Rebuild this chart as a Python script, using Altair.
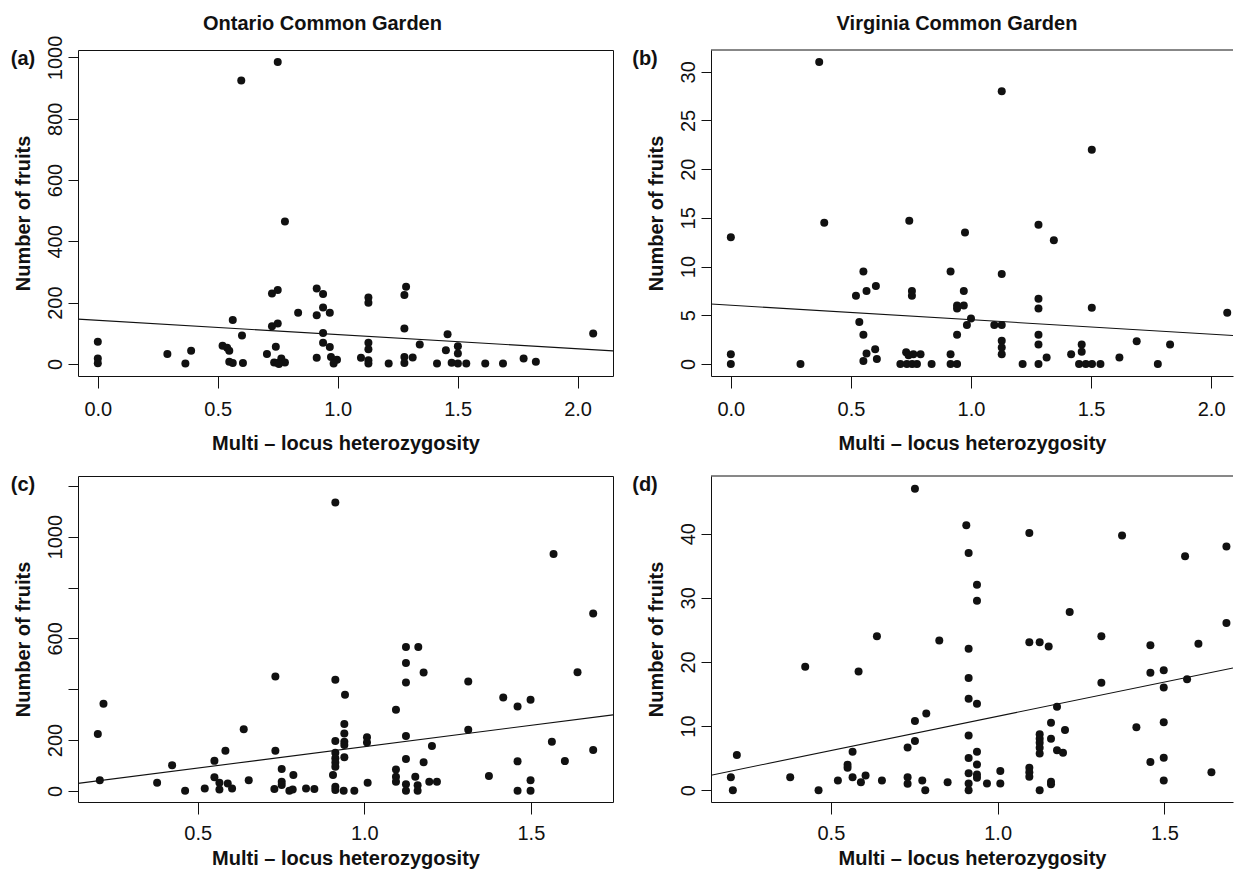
import altair as alt
import pandas as pd

FONT = "Liberation Sans"

# ---------------- data ----------------
a_x = [0.0, 0.0, 0.0, 0.29, 0.365, 0.389, 0.52, 0.539, 0.548, 0.548, 0.5625, 0.5625, 0.601, 0.605, 0.598,
       0.705, 0.742, 0.735, 0.75, 0.765, 0.78, 0.755, 0.726, 0.75, 0.726, 0.75, 0.75, 0.78, 0.835,
       0.9125, 0.939, 0.9125, 0.939, 0.967, 0.939, 0.939, 0.967, 0.9125, 0.972, 0.997, 0.983,
       1.097, 1.128, 1.128, 1.128, 1.128, 1.128, 1.128, 1.2125, 1.285, 1.278, 1.278, 1.278, 1.278,
       1.3125, 1.342, 1.414, 1.458, 1.451, 1.475, 1.501, 1.501, 1.501, 1.536, 1.615, 1.689, 1.775, 1.826, 2.065]
a_y = [72, 18, 2, 32, 1, 43, 59, 53, 43, 7, 3, 143, 93, 3, 925,
       32, 56, 5, 3, 18, 5, 0, 230, 241, 123, 132, 985, 465, 167,
       246, 228, 159, 184, 167, 101, 69, 55, 20, 23, 14, 1,
       20, 217, 200, 69, 48, 12, 1, 1, 252, 225, 116, 23, 3,
       21, 63, 1, 97, 45, 4, 58, 34, 1, 1, 1, 1, 18, 7, 99]

b_x = [0.0, 0.0, 0.0, 0.29, 0.368, 0.389, 0.521, 0.552, 0.565, 0.604, 0.535, 0.552, 0.565, 0.552, 0.601, 0.608,
       0.706, 0.733, 0.73, 0.74, 0.76, 0.79, 0.755, 0.775, 0.743, 0.754, 0.754, 0.836,
       0.915, 0.915, 0.915, 0.942, 0.942, 0.942, 0.942, 0.97, 0.97, 0.975, 0.983, 1.0,
       1.128, 1.097, 1.128, 1.128, 1.128, 1.128, 1.128, 1.215,
       1.281, 1.281, 1.281, 1.281, 1.281, 1.281, 1.315, 1.345,
       1.417, 1.461, 1.461, 1.45, 1.478, 1.504, 1.539, 1.503, 1.503,
       1.618, 1.69, 1.778, 1.829, 2.067]
b_y = [13.0, 1.0, 0.0, 0.0, 31.0, 14.5, 7.0, 9.5, 7.5, 8.0, 4.3, 3.0, 1.07, 0.3, 1.5, 0.5,
       0.0, 0.0, 1.2, 0.9, 1.0, 1.0, 0.0, 0.0, 14.7, 7.5, 7.0, 0.0,
       9.5, 1.0, 0.0, 0.0, 3.0, 6.0, 5.7, 6.0, 7.5, 13.5, 4.0, 4.67,
       28.0, 4.0, 4.0, 9.23, 2.37, 1.69, 1.0, 0.0,
       14.3, 6.7, 5.7, 3.0, 2.0, 0.0, 0.66, 12.7,
       1.0, 2.0, 1.24, 0.0, 0.0, 0.0, 0.0, 22.0, 5.77,
       0.66, 2.34, 0.0, 2.0, 5.25]

c_x = [0.2, 0.217, 0.206, 0.378, 0.423, 0.462, 0.521, 0.55, 0.55, 0.565, 0.565, 0.583, 0.59, 0.603, 0.638, 0.653,
       0.733, 0.733, 0.73, 0.752, 0.752, 0.752, 0.775, 0.785, 0.787, 0.825, 0.85,
       0.913, 0.913, 0.942, 0.913, 0.913, 0.913, 0.913, 0.913, 0.906, 0.913, 0.913, 0.938,
       0.94, 0.94, 0.94, 0.94, 0.94, 0.97, 1.008, 1.008, 1.01,
       1.095, 1.095, 1.095, 1.095, 1.125, 1.162, 1.125, 1.125, 1.178, 1.125, 1.125, 1.178, 1.125, 1.125,
       1.153, 1.16, 1.16, 1.195, 1.218, 1.203,
       1.312, 1.312, 1.374, 1.417, 1.46, 1.46, 1.46, 1.499, 1.499, 1.499,
       1.568, 1.563, 1.602, 1.64, 1.687, 1.687]
c_y = [224, 343, 42, 32, 101, 0, 9, 118, 53, 32, 5, 158, 29, 9, 242, 42,
       450, 158, 7, 86, 36, 23, 0, 5, 62, 9, 7,
       1135, 437, 378, 196, 150, 128, 111, 95, 62, 16, 3, 0,
       263, 226, 193, 180, 132, 0, 211, 190, 32,
       319, 84, 55, 36, 566, 566, 503, 426, 466, 216, 125, 112, 26, 0,
       55, 22, 0, 36, 36, 176,
       430, 240, 58, 367, 332, 116, 0, 358, 42, 0,
       932, 193, 117, 467, 698, 161]

d_x = [0.2, 0.206, 0.218, 0.378, 0.423, 0.463, 0.521, 0.55, 0.55, 0.565, 0.565, 0.583, 0.59, 0.604, 0.638, 0.653,
       0.73, 0.73, 0.73, 0.752, 0.752, 0.752, 0.774, 0.783, 0.786, 0.825, 0.85,
       0.906, 0.913, 0.913, 0.913, 0.913, 0.938, 0.913, 0.913, 0.913, 0.913, 0.913,
       0.938, 0.938, 0.938, 0.938, 0.938, 0.938, 0.968, 1.008, 1.008,
       1.095, 1.095, 1.126, 1.153, 1.095, 1.095, 1.095, 1.126, 1.126, 1.126, 1.126, 1.126, 1.126,
       1.16, 1.16, 1.16, 1.16, 1.178, 1.178, 1.196, 1.202, 1.216,
       1.311, 1.311, 1.373, 1.416, 1.458, 1.458, 1.458, 1.498, 1.498, 1.498, 1.498, 1.498,
       1.568, 1.562, 1.602, 1.641, 1.686, 1.686]
d_y = [2.0, 0.0, 5.5, 2.0, 19.25, 0.0, 1.5, 3.96, 3.5, 6.0, 2.0, 18.5, 1.25, 2.3, 24.0, 1.5,
       6.66, 2.0, 1.0, 47.0, 10.77, 7.65, 1.5, 0.0, 11.97, 23.36, 1.25,
       41.3, 37.0, 22.06, 17.5, 14.26, 13.48, 8.54, 5.0, 2.65, 1.04, 0.0,
       32.05, 29.55, 6.0, 4.0, 2.45, 1.93, 1.04, 2.97, 1.04,
       40.1, 23.05, 23.05, 22.4, 3.5, 2.8, 2.08, 8.7, 8.0, 7.4, 6.6, 5.7, 0.0,
       10.5, 8.0, 1.3, 0.9, 13.0, 6.24, 5.83, 9.37, 27.8,
       24.0, 16.75, 39.7, 9.8, 22.6, 18.3, 4.37, 18.7, 16.0, 10.6, 5.05, 1.5,
       17.3, 36.5, 22.85, 2.8, 38.0, 26.06]

# regression lines (intercept, slope)
a_fit = [142.2, -46.4]
b_fit = [6.03, -1.49]
c_fit = [5.5, 168.1]
d_fit = [0.83, 10.69]

letters = ["(a)", "(b)", "(c)", "(d)"]
garden_titles = ["Ontario Common Garden", "Virginia Common Garden"]
x_title = "Multi \u2013 locus heterozygosity"
y_title = "Number of fruits"

x_ticks_top = [0.0, 0.5, 1.0, 1.5, 2.0]
x_ticks_bottom = [0.5, 1.0, 1.5]
a_yticks = [0, 200, 400, 600, 800, 1000]
b_yticks = [0, 5, 10, 15, 20, 25, 30]
c_yticks = [0, 200, 400, 600, 800, 1000, 1200]
c_ylabels = [0, 200, 600, 1000]
d_yticks = [0, 10, 20, 30, 40]


def panel(xs, ys, fit, xdom, ydom, xticks, yticks, ylabels, width, height,
          letter, title=None, title_dx=0, open_right=False, lab_pad=11, ttl_pad=14,
          letter_x=-55):
    pts = pd.DataFrame({"x": xs, "y": ys})
    line = pd.DataFrame({"x": [xdom[0], xdom[1]],
                         "y": [fit[0] + fit[1] * xdom[0], fit[0] + fit[1] * xdom[1]]})

    if ylabels is None:
        label_expr = "datum.label"
    else:
        cond = " || ".join(f"datum.value == {v}" for v in ylabels)
        label_expr = f"({cond}) ? datum.label : ''"

    xaxis = alt.Axis(values=xticks, format=".1f", title=x_title, grid=False,
                     labelFontSize=20, labelFont=FONT, labelColor="#111",
                     tickSize=12, tickColor="#111", tickWidth=1,
                     domain=open_right, domainColor="#111", domainWidth=1,
                     labelPadding=lab_pad, labelFlush=False, labelOverlap=False,
                     titleFont=FONT, titleFontSize=20, titleFontWeight="bold",
                     titleColor="#111", titlePadding=ttl_pad)
    yaxis = alt.Axis(values=yticks, format="d", title=y_title, grid=False,
                     labelFontSize=20, labelFont=FONT, labelColor="#111",
                     labelAngle=-90, labelAlign="center", labelBaseline="alphabetic",
                     labelExpr=label_expr,
                     tickSize=10, tickColor="#111", tickWidth=1,
                     domain=open_right, domainColor="#111", domainWidth=1,
                     labelPadding=7, labelFlush=False, labelOverlap=False,
                     titleFont=FONT, titleFontSize=20, titleFontWeight="bold",
                     titleColor="#111", titlePadding=12)

    xs_ = alt.Scale(domain=list(xdom), nice=False, zero=False)
    ys_ = alt.Scale(domain=list(ydom), nice=False, zero=False)

    p = alt.Chart(pts).mark_circle(size=64, color="#111", opacity=1).encode(
        x=alt.X("x:Q", scale=xs_, axis=xaxis),
        y=alt.Y("y:Q", scale=ys_, axis=yaxis),
    )
    l = alt.Chart(line).mark_line(color="#111", strokeWidth=1.1, clip=True).encode(
        x=alt.X("x:Q", scale=xs_), y=alt.Y("y:Q", scale=ys_)
    )
    lab = alt.Chart(pd.DataFrame({"t": [letter]})).mark_text(
        font=FONT, fontSize=20, fontWeight="bold", color="#111",
        align="center", baseline="middle"
    ).encode(text="t:N", x=alt.value(letter_x), y=alt.value(9))

    layers = [p, l, lab]
    if title is not None:
        ttl = alt.Chart(pd.DataFrame({"t": [title]})).mark_text(
            font=FONT, fontSize=20, fontWeight="bold", color="#111",
            align="center", baseline="alphabetic"
        ).encode(text="t:N", x=alt.value(width / 2 + title_dx), y=alt.value(-20))
        layers.append(ttl)
    if open_right:
        top = alt.Chart(pd.DataFrame({"t": [0]})).mark_rule(color="#111", strokeWidth=1).encode(
            x=alt.value(0), x2=alt.value(width), y=alt.value(0))
        layers.append(top)

    ch = alt.layer(*layers).properties(width=width, height=height)
    if open_right:
        ch = ch.properties(view=alt.ViewBackground(stroke="transparent"))
    else:
        ch = ch.properties(view=alt.ViewBackground(stroke="#111", strokeWidth=1))
    return ch


W_L, W_R, H = 535, 522, 326

pa = panel(a_x, a_y, a_fit, (-0.0826, 2.1476), (-39.4, 1024.4), x_ticks_top, a_yticks, None,
           W_L, H, letters[0], garden_titles[0], -23)
pb = panel(b_x, b_y, b_fit, (-0.0826, 2.091), (-1.24, 32.24), x_ticks_top, b_yticks, None,
           W_R, H, letters[1], garden_titles[1], -15, open_right=True, letter_x=-66)
pc = panel(c_x, c_y, c_fit, (0.1405, 1.7465), (-44, 1239), x_ticks_bottom, c_yticks, c_ylabels,
           W_L, H, letters[2], lab_pad=9, ttl_pad=5)
pd_ = panel(d_x, d_y, d_fit, (0.1405, 1.7057), (-1.85, 49.0), x_ticks_bottom, d_yticks, None,
            W_R, H, letters[3], open_right=True, lab_pad=9, ttl_pad=5, letter_x=-66)

chart = alt.vconcat(
    alt.hconcat(pa, pb, spacing=17),
    alt.hconcat(pc, pd_, spacing=17),
    spacing=20,
).properties(
    padding={"left": 2, "top": 5, "right": 0, "bottom": 0},
    background="white",
).configure_view(strokeWidth=1)

chart.save("out.html", embed_options={"renderer": "svg", "actions": False})
